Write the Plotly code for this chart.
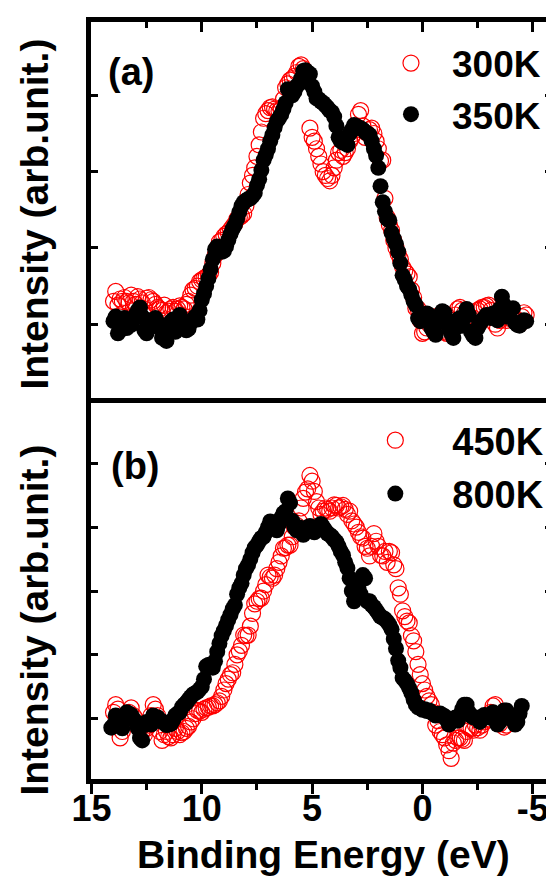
import plotly.graph_objects as go

# Binding energy grid (eV), 14.1 ... -4.7
energy = [14.1, 14.0, 13.9, 13.8, 13.7, 13.6, 13.5, 13.4, 13.3, 13.2,
          13.1, 13.0, 12.9, 12.8, 12.7, 12.6, 12.5, 12.4, 12.3, 12.2,
          12.1, 12.0, 11.9, 11.8, 11.7, 11.6, 11.5, 11.4, 11.3, 11.2,
          11.1, 11.0, 10.9, 10.8, 10.7, 10.6, 10.5, 10.4, 10.3, 10.2,
          10.1, 10.0, 9.9, 9.8, 9.7, 9.6, 9.5, 9.4, 9.3, 9.2,
          9.1, 9.0, 8.9, 8.8, 8.7, 8.6, 8.5, 8.4, 8.3, 8.2,
          8.1, 8.0, 7.9, 7.8, 7.7, 7.6, 7.5, 7.4, 7.3, 7.2,
          7.1, 7.0, 6.9, 6.8, 6.7, 6.6, 6.5, 6.4, 6.3, 6.2,
          6.1, 6.0, 5.9, 5.8, 5.7, 5.6, 5.5, 5.4, 5.3, 5.2,
          5.1, 5.0, 4.9, 4.8, 4.7, 4.6, 4.5, 4.4, 4.3, 4.2,
          4.1, 4.0, 3.9, 3.8, 3.7, 3.6, 3.5, 3.4, 3.3, 3.2,
          3.1, 3.0, 2.9, 2.8, 2.7, 2.6, 2.5, 2.4, 2.3, 2.2,
          2.1, 2.0, 1.9, 1.8, 1.7, 1.6, 1.5, 1.4, 1.3, 1.2,
          1.1, 1.0, 0.9, 0.8, 0.7, 0.6, 0.5, 0.4, 0.3, 0.2,
          0.1, 0.0, -0.1, -0.2, -0.3, -0.4, -0.5, -0.6, -0.7, -0.8,
          -0.9, -1.0, -1.1, -1.2, -1.3, -1.4, -1.5, -1.6, -1.7, -1.8,
          -1.9, -2.0, -2.1, -2.2, -2.3, -2.4, -2.5, -2.6, -2.7, -2.8,
          -2.9, -3.0, -3.1, -3.2, -3.3, -3.4, -3.5, -3.6, -3.7, -3.8,
          -3.9, -4.0, -4.1, -4.2, -4.3, -4.4, -4.5, -4.6, -4.7]

# Panel (a): 300K (open red) and 350K (filled black)
i300 = [None, 0.30, 0.43, 0.25, 0.33, 0.30, 0.35, 0.30, 0.28, 0.38,
        0.30, 0.26, 0.36, 0.33, 0.28, 0.20, 0.34, 0.35, 0.32, 0.30,
        0.26, 0.22, 0.20, 0.18, 0.25, 0.15, 0.17, 0.20, 0.22, 0.17,
        0.20, 0.24, 0.22, 0.20, 0.26, 0.30, 0.38, 0.45, 0.47, 0.50,
        0.56, 0.58, 0.60, 0.62, 0.64, 0.68, 0.80, 0.90, 1.00, 1.08,
        1.10, 1.15, 1.18, 1.20, 1.24, 1.28, 1.32, 1.38, 1.40, 1.42,
        1.45, 1.55, 1.70, 1.85, 1.95, 2.05, 2.20, 2.35, 2.52, 2.70,
        2.76, 2.80, 2.84, 2.85, 2.82, 2.80, 2.79, 2.82, 2.95, 3.10,
        3.15, 3.20, 3.22, 3.25, 3.30, 3.38, 3.40, 3.35, 3.30, 3.25,
        2.57, 2.45, 2.40, 2.30, 2.20, 2.10, 2.00, 1.95, 1.91, 1.88,
        1.95, 2.05, 2.15, 2.25, 2.28, 2.20, 2.25, 2.30, 2.40, 2.45,
        2.50, 2.55, 2.75, 2.80, 2.60, 2.45, 2.50, 2.55, 2.57, 2.50,
        2.40, 2.30, 2.14, 2.15, 1.65, 1.40, 1.30, 1.23, 1.10, 1.00,
        0.92, 0.85, 0.75, 0.70, 0.66, 0.62, 0.45, 0.35, 0.21, 0.20,
        0.05, -0.12, -0.10, -0.05, 0.00, 0.05, 0.08, 0.10, 0.04, 0.00,
        -0.08, -0.10, -0.12, -0.05, 0.00, 0.05, 0.12, 0.20, 0.22, 0.18,
        0.14, 0.10, 0.05, 0.00, 0.08, 0.15, 0.18, 0.20, 0.22, 0.22,
        0.24, 0.25, 0.18, 0.10, 0.00, -0.05, 0.05, 0.15, 0.10, 0.05,
        0.08, 0.12, 0.10, 0.08, 0.04, 0.00, 0.10, 0.15, 0.12]
i350 = [None, 0.04, 0.10, -0.12, -0.08, 0.05, 0.08, -0.05, 0.02, -0.01,
        0.06, 0.12, 0.18, 0.22, 0.10, -0.08, -0.12, 0.05, 0.00, -0.02,
        0.08, 0.02, -0.05, -0.18, -0.12, -0.22, -0.10, 0.03, 0.06, -0.10,
        0.05, 0.12, 0.06, 0.00, -0.08, -0.06, 0.02, 0.05, 0.10, 0.06,
        0.18, 0.32, 0.40, 0.50, 0.60, 0.72, 0.85, 0.98, 1.02, 1.00,
        0.95, 0.96, 1.02, 1.10, 1.18, 1.25, 1.30, 1.38, 1.47, 1.55,
        1.60, 1.62, 1.64, 1.65, 1.68, 1.72, 1.82, 1.90, 2.02, 2.15,
        2.22, 2.30, 2.40, 2.48, 2.58, 2.66, 2.70, 2.75, 2.82, 2.90,
        3.08, 3.05, 3.00, 3.05, 3.12, 3.15, 3.22, 3.32, 3.33, 3.30,
        3.28, 3.12, 3.05, 2.96, 2.95, 2.92, 2.90, 2.87, 2.84, 2.80,
        2.78, 2.72, 2.60, 2.45, 2.40, 2.38, 2.42, 2.35, 2.50, 2.55,
        2.61, 2.60, 2.58, 2.57, 2.55, 2.52, 2.50, 2.48, 2.40, 2.30,
        2.21, 2.05, 1.81, 1.60, 1.48, 1.38, 1.36, 1.20, 1.12, 1.05,
        0.95, 0.80, 0.64, 0.58, 0.50, 0.46, 0.38, 0.30, 0.25, 0.08,
        0.04, 0.10, 0.06, 0.14, 0.12, -0.05, -0.10, -0.14, 0.02, 0.10,
        0.17, 0.15, 0.02, -0.05, -0.12, -0.18, -0.05, 0.06, 0.08, -0.02,
        0.10, 0.20, 0.12, -0.10, -0.15, -0.18, -0.05, 0.00, 0.05, 0.08,
        0.12, 0.10, 0.08, 0.14, 0.12, 0.05, 0.20, 0.36, 0.25, 0.10,
        0.15, 0.20, 0.21, 0.02, -0.01, -0.02, 0.03, 0.05, 0.04]

# Panel (b): 450K (open red) and 800K (filled black)
i450 = [None, 0.10, 0.22, 0.15, -0.30, -0.20, 0.05, 0.05, 0.10, 0.17,
        0.05, 0.00, -0.10, -0.15, -0.20, -0.25, -0.15, -0.10, 0.05, 0.22,
        0.15, 0.05, -0.20, -0.34, -0.25, -0.20, -0.28, -0.30, -0.25, -0.15,
        -0.20, -0.25, -0.22, -0.20, -0.15, -0.12, -0.05, 0.00, 0.08, 0.13,
        0.12, 0.10, 0.15, 0.17, 0.18, 0.20, 0.20, 0.22, 0.25, 0.28,
        0.35, 0.45, 0.55, 0.62, 0.69, 0.72, 0.85, 1.00, 1.06, 1.15,
        1.31, 1.30, 1.31, 1.45, 1.65, 1.80, 1.84, 1.88, 1.89, 2.00,
        2.10, 2.25, 2.22, 2.20, 2.25, 2.35, 2.45, 2.55, 2.67, 2.68,
        2.72, 2.72, 2.85, 3.00, 3.03, 3.10, 3.30, 3.45, 3.55, 3.60,
        3.81, 3.72, 3.56, 3.40, 3.30, 3.20, 3.25, 3.30, 3.28, 3.25,
        3.30, 3.35, 3.34, 3.30, 3.32, 3.34, 3.28, 3.20, 3.25, 3.10,
        3.05, 3.00, 2.92, 2.85, 2.83, 2.70, 2.67, 2.55, 2.70, 2.90,
        2.78, 2.70, 2.56, 2.55, 2.62, 2.45, 2.62, 2.60, 2.41, 2.35,
        2.05, 1.95, 1.69, 1.60, 1.53, 1.50, 1.30, 1.22, 1.05, 0.85,
        0.69, 0.55, 0.45, 0.35, 0.28, 0.22, 0.10, -0.10, -0.03, -0.20,
        -0.25, -0.30, -0.41, -0.50, -0.62, -0.38, -0.34, -0.30, -0.30, -0.32,
        -0.34, -0.20, -0.14, -0.15, -0.18, -0.10, -0.14, -0.18, -0.10, -0.05,
        -0.02, 0.00, 0.10, 0.20, 0.22, -0.05, -0.08, 0.05, -0.13, -0.10,
        None, None, None, None, None, None, None, None, None]
i800 = [-0.14, -0.10, 0.05, 0.02, -0.05, -0.15, 0.00, 0.10, 0.08, 0.06,
        0.00, -0.05, -0.15, -0.30, -0.34, -0.10, -0.05, -0.08, -0.09, 0.05,
        0.02, 0.02, -0.02, -0.05, -0.06, -0.10, -0.09, -0.08, -0.02, 0.05,
        0.08, 0.10, 0.18, 0.22, 0.25, 0.30, 0.34, 0.38, 0.40, 0.42,
        0.46, 0.50, 0.62, 0.82, 0.84, 0.85, 0.80, 0.90, 1.05, 1.18,
        1.30, 1.38, 1.46, 1.55, 1.63, 1.72, 1.78, 1.95, 2.05, 2.12,
        2.25, 2.35, 2.41, 2.50, 2.60, 2.68, 2.72, 2.78, 2.83, 2.85,
        2.92, 3.00, 3.09, 3.05, 2.98, 2.95, 3.05, 3.15, 3.22, 3.25,
        3.45, 3.38, 3.10, 3.00, 2.95, 3.00, 2.95, 2.88, 2.95, 3.00,
        3.02, 2.98, 2.92, 2.95, 3.00, 3.05, 3.00, 2.95, 2.90, 2.88,
        2.85, 2.80, 2.77, 2.70, 2.62, 2.56, 2.45, 2.36, 2.20, 2.00,
        1.84, 1.90, 2.05, 1.95, 2.25, 2.20, 1.84, 1.84, 1.78, 1.75,
        1.70, 1.65, 1.60, 1.58, 1.56, 1.52, 1.47, 1.40, 1.25, 1.10,
        0.91, 0.80, 0.64, 0.60, 0.55, 0.48, 0.40, 0.30, 0.22, 0.18,
        0.17, 0.14, 0.15, 0.12, 0.13, 0.10, 0.08, 0.05, 0.06, 0.08,
        0.06, 0.04, -0.02, -0.09, -0.05, 0.00, 0.02, -0.03, 0.05, 0.15,
        0.22, 0.22, 0.10, 0.05, 0.02, 0.02, 0.00, -0.05, 0.02, 0.06,
        0.05, 0.02, 0.06, 0.10, -0.02, -0.09, -0.05, 0.00, 0.13, 0.13,
        0.08, 0.05, -0.02, -0.09, -0.05, 0.08, 0.20, None, None]

xtick_vals = [15, 10, 5, 0, -5]
xtick_text = ["15", "10", "5", "0", "-5"]
minor_vals = [12.5, 7.5, 2.5, -2.5]

FONT = "Liberation Sans, Arial, sans-serif"
XR = [15.02, -5.87]

L, R, T, B = 83, 5, 14, 111
W, H = 554, 882
PW, PH = W - L - R, H - T - B


def px(xp):
    return (xp - L) / PW


def py(yp):
    return (H - B - yp) / PH


fig = go.Figure()

red_m = dict(symbol="circle-open", size=16, color="red", line=dict(width=1.2, color="red"))
blk_m = dict(symbol="circle", size=16, color="black", line=dict(width=0))

fig.add_trace(go.Scatter(x=energy, y=i300, mode="markers", name="300K", marker=red_m,
                         xaxis="x2", yaxis="y2", legend="legend"))
fig.add_trace(go.Scatter(x=energy, y=i350, mode="markers", name="350K", marker=blk_m,
                         xaxis="x2", yaxis="y2", legend="legend"))
fig.add_trace(go.Scatter(x=energy, y=i450, mode="markers", name="450K", marker=red_m,
                         xaxis="x", yaxis="y", legend="legend2", legendgroup="g1"))
fig.add_trace(go.Scatter(x=energy, y=i800, mode="markers", name="800K", marker=blk_m,
                         xaxis="x", yaxis="y", legend="legend2", legendgroup="g2"))

common_x = dict(range=XR, autorange=False, showline=True, linewidth=5, linecolor="black",
                showgrid=False, zeroline=False, tickvals=xtick_vals, ticktext=xtick_text,
                tickwidth=3, tickcolor="black")
common_y = dict(showline=True, linewidth=5, linecolor="black", mirror="ticks",
                showgrid=False, zeroline=False, ticks="inside", ticklen=7, tickwidth=3,
                tickcolor="black", showticklabels=False)

fig.update_layout(
    width=W, height=H,
    margin=dict(l=L, r=R, t=T, b=B),
    paper_bgcolor="white", plot_bgcolor="white",
    font=dict(family=FONT, color="black", size=36, weight="bold"),
    xaxis=dict(common_x, domain=[0, 1], anchor="y", side="bottom", mirror=False,
               ticks="outside", ticklen=10, ticklabelstandoff=-16,
               tickfont=dict(family=FONT, size=36, color="black", weight="bold"),
               minor=dict(tickvals=minor_vals, ticks="outside", ticklen=6, tickwidth=3,
                          tickcolor="black", showgrid=False)),
    xaxis2=dict(common_x, domain=[0, 1], anchor="y2", side="top", mirror=True,
                ticks="inside", ticklen=10, showticklabels=False,
                minor=dict(tickvals=minor_vals, ticks="inside", ticklen=6, tickwidth=3,
                           tickcolor="black", showgrid=False)),
    yaxis=dict(common_y, domain=[0, 0.5005], anchor="x", range=[-0.944, 4.99],
               autorange=False, tickvals=[0, 1, 2, 3, 4, 5]),
    yaxis2=dict(common_y, domain=[0.5038, 1], anchor="x2", range=[-0.963, 3.962],
                autorange=False, tickvals=[0, 1, 2, 3, 4]),
    legend=dict(x=px(365), y=py(24.5), xanchor="left", yanchor="top",
                itemwidth=72, bgcolor="rgba(0,0,0,0)", borderwidth=0,
                font=dict(family=FONT, size=37, color="black", weight="bold")),
    legend2=dict(x=px(333), y=py(401), xanchor="left", yanchor="top",
                 itemwidth=104, bgcolor="rgba(0,0,0,0)", borderwidth=0,
                 traceorder="grouped", tracegroupgap=1,
                 font=dict(family=FONT, size=38, color="black", weight="bold")),
    showlegend=True,
)

ann_font = dict(family=FONT, size=39, color="black", weight="bold")
lab_font = dict(family=FONT, size=38, color="black", weight="bold")
fig.add_annotation(text="Intensity (arb.unit.)", textangle=-90, xref="paper", yref="paper",
                   x=px(25), y=py(206), xanchor="center", yanchor="middle",
                   showarrow=False, font=ann_font)
fig.add_annotation(text="Intensity (arb.unit.)", textangle=-90, xref="paper", yref="paper",
                   x=px(25), y=py(612), xanchor="center", yanchor="middle",
                   showarrow=False, font=ann_font)
fig.add_annotation(text="Binding Energy (eV)", xref="paper", yref="paper",
                   x=px(318), y=py(846), xanchor="center", yanchor="middle",
                   showarrow=False, font=ann_font)
fig.add_annotation(text="(a)", xref="paper", yref="paper",
                   x=px(123.5), y=py(64), xanchor="center", yanchor="middle",
                   showarrow=False, font=lab_font)
fig.add_annotation(text="(b)", xref="paper", yref="paper",
                   x=px(127.5), y=py(458), xanchor="center", yanchor="middle",
                   showarrow=False, font=lab_font)

fig.write_html("out.html")
